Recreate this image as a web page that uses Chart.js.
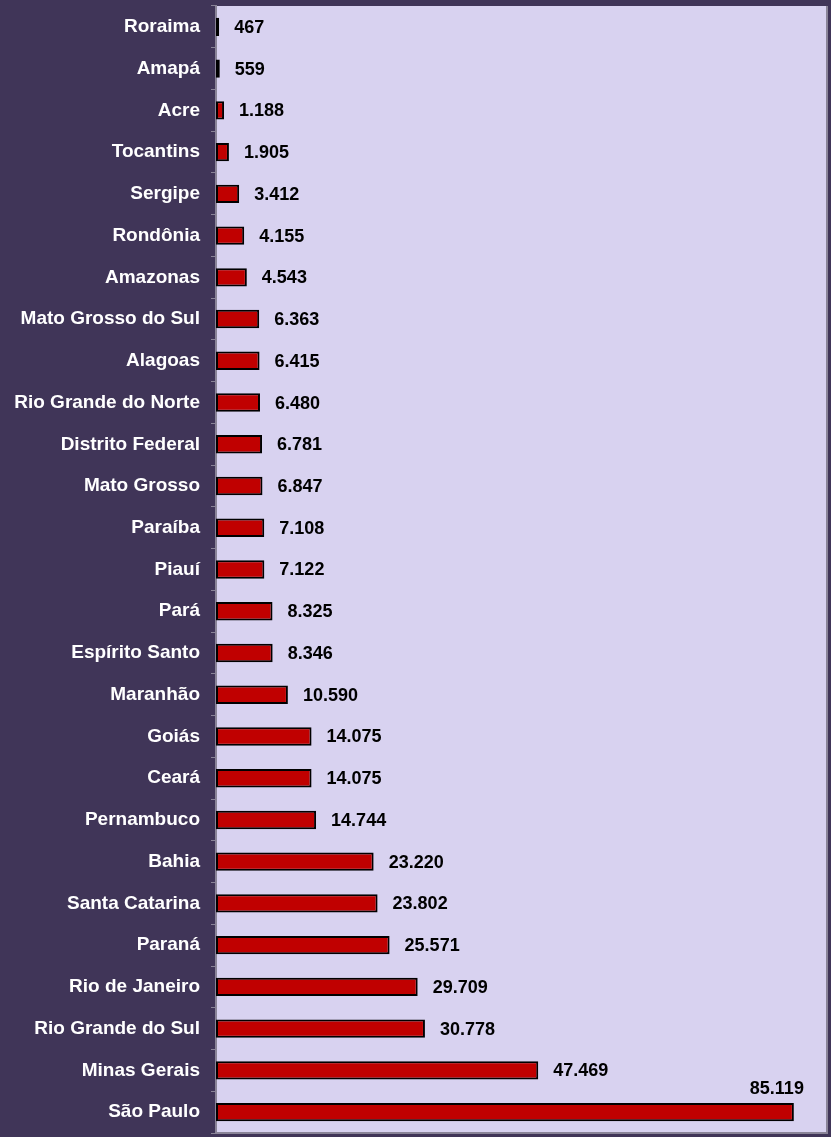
<!DOCTYPE html>
<html>
<head>
<meta charset="utf-8">
<script src="https://cdn.jsdelivr.net/npm/chart.js@4"></script>
<style>
  html, body { margin: 0; padding: 0; background: #403558; }
  #wrap { width: 831px; height: 1137px; position: relative; }
</style>
</head>
<body>
<div id="wrap"><canvas id="bars"></canvas></div>
<script>
const estados = ["Roraima", "Amapá", "Acre", "Tocantins", "Sergipe", "Rondônia", "Amazonas",
  "Mato Grosso do Sul", "Alagoas", "Rio Grande do Norte", "Distrito Federal", "Mato Grosso",
  "Paraíba", "Piauí", "Pará", "Espírito Santo", "Maranhão", "Goiás", "Ceará", "Pernambuco",
  "Bahia", "Santa Catarina", "Paraná", "Rio de Janeiro", "Rio Grande do Sul", "Minas Gerais", "São Paulo"];
const valores = [467, 559, 1188, 1905, 3412, 4155, 4543, 6363, 6415, 6480, 6781, 6847,
  7108, 7122, 8325, 8346, 10590, 14075, 14075, 14744, 23220, 23802, 25571, 29709, 30778, 47469, 85119];
const eixoMax = 90000;

function formata(v) {
  return String(v).replace(/\B(?=(\d{3})+(?!\d))/g, ".");
}

// fundo lilás da área do gráfico + borda
const fundoPlot = {
  id: "fundoPlot",
  beforeDraw(chart) {
    const { ctx, chartArea: a } = chart;
    ctx.save();
    ctx.fillStyle = "#d8d2f0";
    ctx.fillRect(a.left, a.top, a.right - a.left, a.bottom - a.top);
    ctx.strokeStyle = "#8a8498";
    ctx.lineWidth = 2;
    ctx.beginPath();
    ctx.moveTo(a.left, a.bottom);
    ctx.lineTo(a.right, a.bottom);
    ctx.lineTo(a.right, a.top);
    ctx.stroke();
    ctx.restore();
  }
};

// rótulos de valor ao lado das barras
const rotulos = {
  id: "rotulos",
  afterDatasetsDraw(chart) {
    const { ctx, chartArea: a } = chart;
    const meta = chart.getDatasetMeta(0);
    ctx.save();
    ctx.font = "bold 18px 'Liberation Sans', Arial, sans-serif";
    ctx.fillStyle = "#000";
    ctx.textBaseline = "middle";
    meta.data.forEach((bar, i) => {
      const txt = formata(valores[i]);
      const w = ctx.measureText(txt).width;
      if (bar.x + 15 + w > a.right) {
        ctx.textAlign = "center";
        ctx.fillText(txt, bar.x - 17, bar.y - 23);
      } else {
        ctx.textAlign = "left";
        ctx.fillText(txt, bar.x + 15, bar.y + 1);
      }
    });
    ctx.restore();
  }
};

const ctx = document.getElementById("bars").getContext("2d");
const grafico = new Chart(ctx, {
  type: "bar",
  data: {
    labels: estados,
    datasets: [
      {
        data: valores,
        backgroundColor: "#c00000",
        borderColor: "#000000",
        borderWidth: 2,
        borderSkipped: false,
        categoryPercentage: 0.88,
        barPercentage: 0.5,
      },
    ],
  },
  options: {
    indexAxis: "y",
    responsive: true,
    maintainAspectRatio: false,
    animation: false,
    layout: { padding: { top: 6, right: 4, bottom: 4, left: 0 } },
    plugins: { legend: { display: false }, tooltip: { enabled: false } },
    scales: {
      x: { display: false, min: 0, max: eixoMax },
      y: {
        afterFit(scale) {
          scale.width = 216;
          scale.paddingTop = 0;
          scale.paddingBottom = 0;
        },
        offset: true,
        border: { display: true, color: "#8a8498", width: 2 },
        grid: { drawOnChartArea: false, offset: true, color: "#8a8498", tickLength: 5, lineWidth: 1 },
        ticks: {
          color: "#ffffff",
          padding: 11,
          autoSkip: false,
          font: { family: "'Liberation Sans', Arial, sans-serif", size: 19, weight: "bold" },
        },
      },
    },
  },
  plugins: [fundoPlot, rotulos],
});
</script>
</body>
</html>
